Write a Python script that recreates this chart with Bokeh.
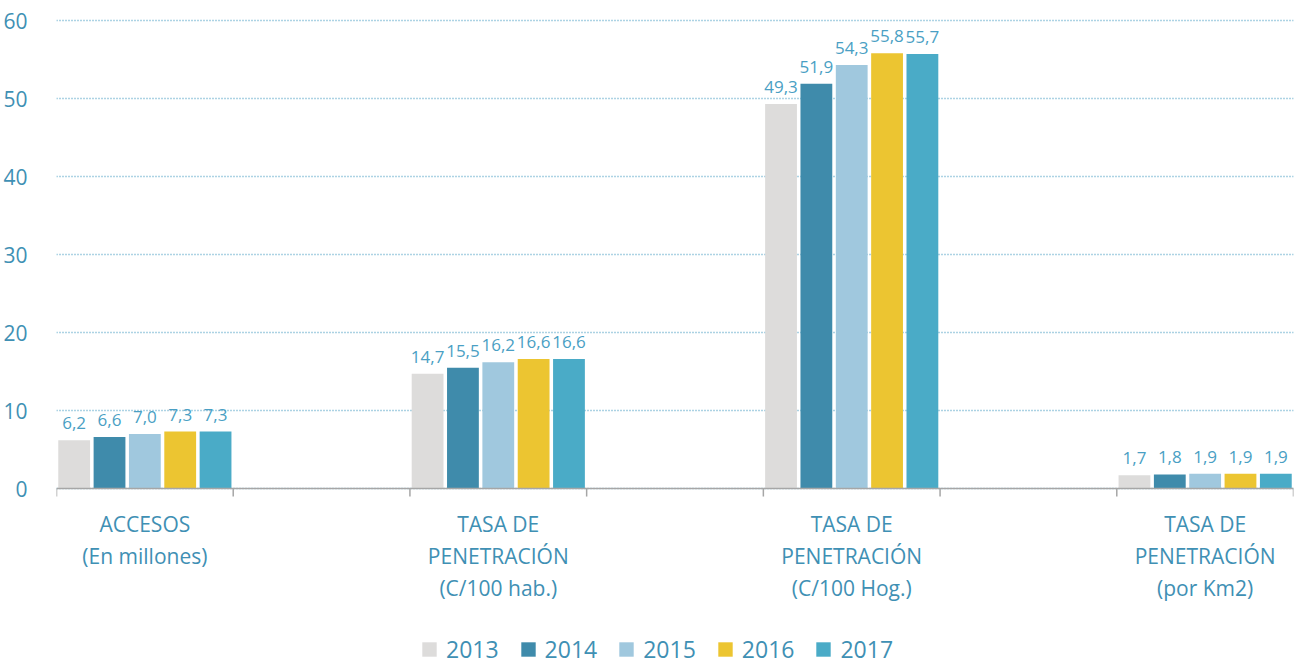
from bokeh.plotting import figure
from bokeh.models import (ColumnDataSource, Range1d, FixedTicker, Legend, LegendItem)
from bokeh.core.properties import value
from bokeh.embed import file_html
from bokeh.resources import INLINE

categories = ["ACCESOS\n(En millones)", "TASA DE\nPENETRACIÓN\n(C/100 hab.)",
              "TASA DE\nPENETRACIÓN\n(C/100 Hog.)", "TASA DE\nPENETRACIÓN\n(por Km2)"]
years = ["2013", "2014", "2015", "2016", "2017"]
v2013 = [6.2, 14.7, 49.3, 1.7]
v2014 = [6.6, 15.5, 51.9, 1.8]
v2015 = [7.0, 16.2, 54.3, 1.9]
v2016 = [7.3, 16.6, 55.8, 1.9]
v2017 = [7.3, 16.6, 55.7, 1.9]
series = [v2013, v2014, v2015, v2016, v2017]
colors = ["#dddcdb", "#3f8bab", "#a0c8de", "#ecc531", "#4aabc7"]
y_ticks = [0, 10, 20, 30, 40, 50, 60]

FONT = "Open Sans"
TXT = "#3f90b4"
AXIS_GRAY = "#a6a6a6"

# vertical scale: 7.8 px per unit; frame extends below zero to hold the
# category labels and the legend
PX_PER_UNIT = 7.8
Y_TOP = 61.03
FRAME_H = 653
Y_BOTTOM = Y_TOP - FRAME_H / PX_PER_UNIT
N_SLOTS = 2 * len(categories) - 1

p = figure(frame_width=1237, frame_height=FRAME_H, output_backend="svg", toolbar_location=None,
           x_range=Range1d(0, N_SLOTS), y_range=Range1d(Y_BOTTOM, Y_TOP),
           min_border_left=52, min_border_right=10, min_border_top=12, min_border_bottom=0)
p.outline_line_color = None
p.xgrid.visible = False
p.xaxis.visible = False

# y axis
p.yaxis.ticker = FixedTicker(ticks=y_ticks)
p.yaxis.axis_line_color = None
p.yaxis.major_tick_line_color = None
p.yaxis.minor_tick_line_color = None
p.yaxis.major_label_text_font = FONT
p.yaxis.major_label_text_font_size = "21px"
p.yaxis.major_label_text_color = TXT
p.yaxis.major_label_standoff = 23
p.ygrid.grid_line_color = "#5aa6c8"
p.ygrid.grid_line_dash = "1 2"
p.ygrid.grid_line_width = 1.5

renderers = []
for j, (yr, vals, col) in enumerate(zip(years, series, colors)):
    xs = [2 * i + 0.1 + 0.2 * j for i in range(len(vals))]
    labels = [f"{v:.1f}".replace(".", ",") for v in vals]
    src = ColumnDataSource(dict(x=xs, top=vals, lab=labels))
    r = p.vbar(x="x", top="top", bottom=0, width=0.18, source=src, fill_color=col, line_color=None)
    renderers.append(r)
    p.text(x="x", y="top", text="lab", source=src, text_align="center", text_baseline="bottom",
           y_offset=-11, text_font=value(FONT), text_font_size="17px", text_color="#4a9fc4")

# category axis: base line at zero, tick marks at slot boundaries, labels under each group
tick_len = 8 / PX_PER_UNIT
bounds = list(range(N_SLOTS + 1))
p.segment(x0=[0], y0=[0], x1=[N_SLOTS], y1=[0], line_color=AXIS_GRAY, line_width=1.5)
p.segment(x0=bounds, y0=[0] * len(bounds), x1=bounds, y1=[-tick_len] * len(bounds),
          line_color=AXIS_GRAY, line_width=1.5)
centers = [2 * i + 0.5 for i in range(len(categories))]
cat_src = ColumnDataSource(dict(x=centers, y=[0] * len(centers), t=categories))
p.text(x="x", y="y", text="t", source=cat_src, text_align="center", text_baseline="top",
       y_offset=21, text_font=value(FONT), text_font_size="21px", text_color=TXT,
       text_line_height=1.15)

legend = Legend(items=[LegendItem(label=y, renderers=[r]) for y, r in zip(years, renderers)],
                orientation="horizontal", location=(364, 0))
legend.label_text_font = FONT
legend.label_text_font_size = "23px"
legend.label_text_color = TXT
legend.glyph_width = 18
legend.glyph_height = 18
legend.label_standoff = 8
legend.spacing = 20
legend.padding = 0
legend.margin = 0
legend.border_line_color = None
legend.background_fill_alpha = 0
p.add_layout(legend, "center")

open("out.html", "w").write(file_html(p, INLINE))
